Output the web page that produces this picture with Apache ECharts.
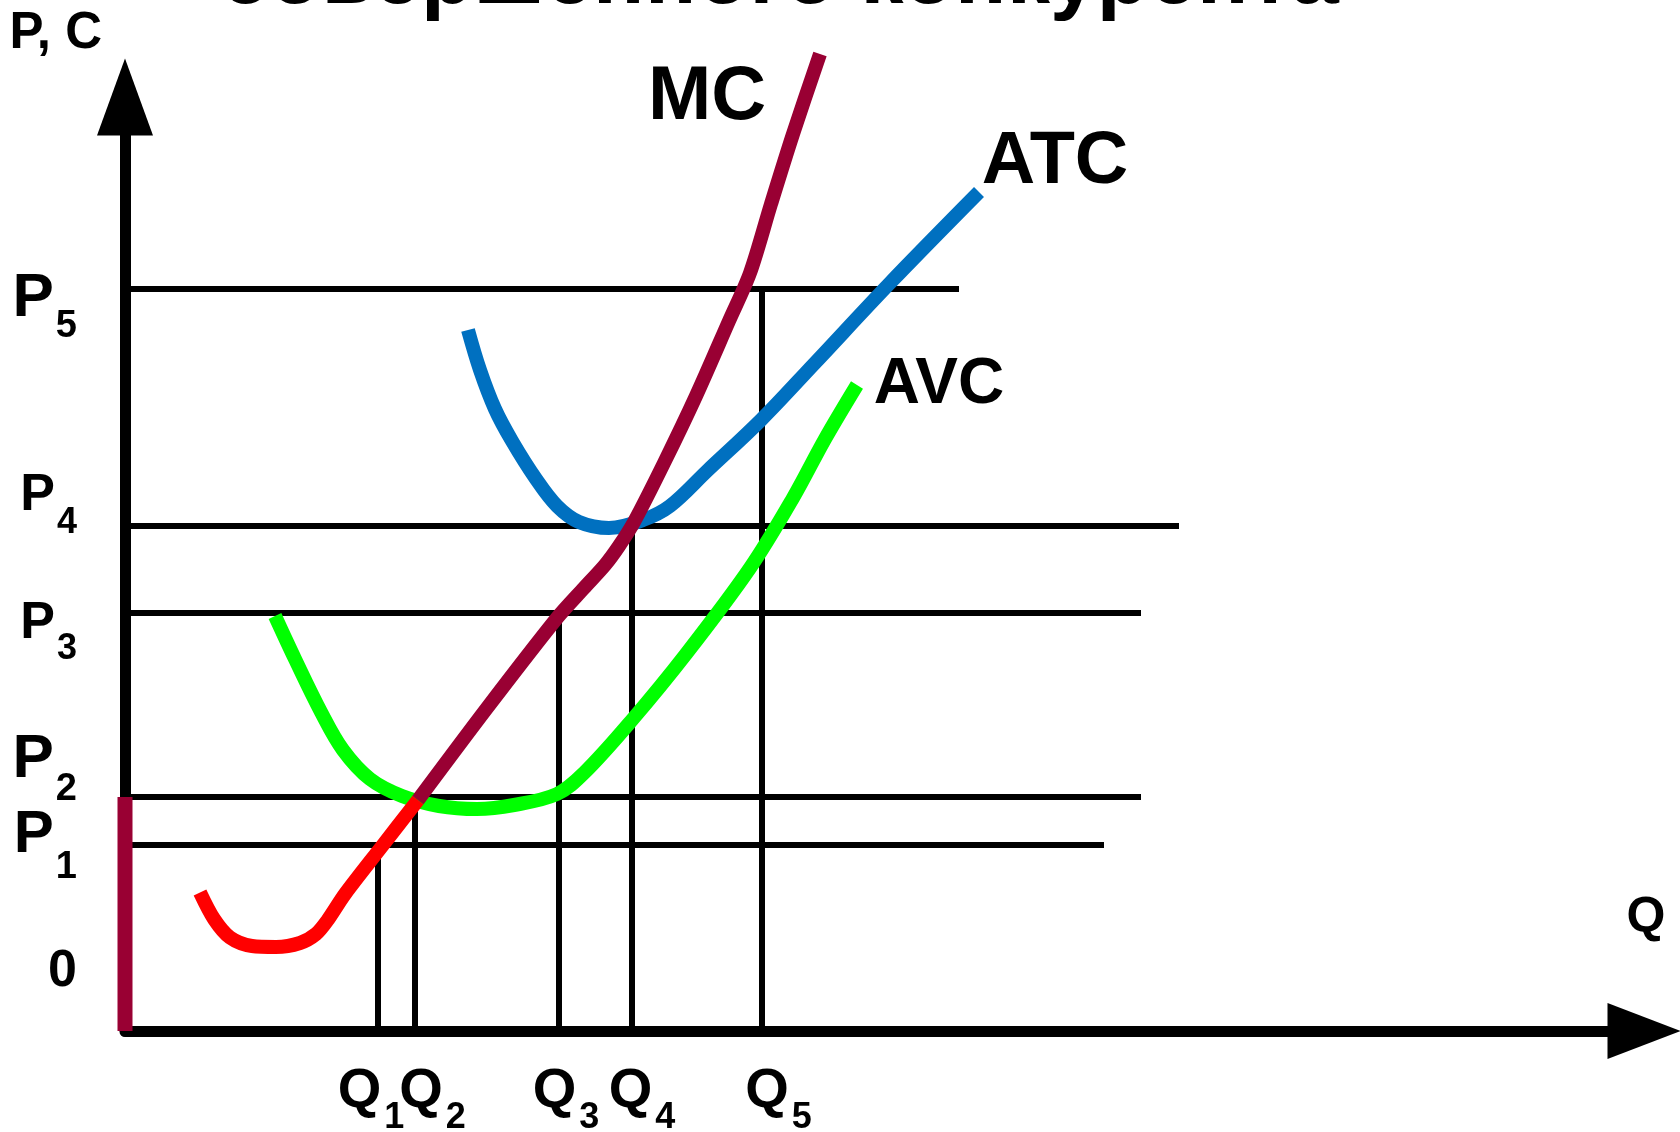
<!DOCTYPE html>
<html><head><meta charset="utf-8">
<script src="https://cdn.jsdelivr.net/npm/echarts@6/dist/echarts.min.js"></script>
<style>html,body{margin:0;padding:0;background:#fff}#c{width:1680px;height:1132px}</style>
</head><body><div id="c"></div>
<script>
// ---- data ----
const titleText = 'совершенного конкурента';
const yAxisName = 'P, C';
const xAxisName = 'Q';
const pLabels = ['P1', 'P2', 'P3', 'P4', 'P5'];
const pValues = [18.6, 23.4, 41.8, 50.5, 74.2];
const pLineEnds = [97.9, 101.6, 101.6, 105.4, 83.4];
const qLabels = ['Q1', 'Q2', 'Q3', 'Q4', 'Q5'];
const qValues = [25.3, 29.0, 43.4, 50.7, 63.7];
const qLineTops = [17.5, 22.5, 41.8, 50.5, 74.2];
const mcLower = [[7.5,13.85],[8.9,11.2],[10.5,9.35],[12.7,8.5],[15.1,8.4],[17.5,8.8],[19.1,9.7],[20.2,11.0],[22.0,13.7],[25.6,18.35],[29.3,23.1]];
const mcUpper = [[29.3,23.1],[36.2,32.3],[43.2,41.3],[45.9,44.3],[48.0,46.6],[49.4,48.5],[50.9,50.9],[53.9,56.8],[57.1,63.5],[60.4,71.0],[62.5,75.8],[64.6,82.7],[66.8,89.7],[69.5,97.7]];
const atc = [[34.3,70.1],[35.5,66.1],[37.0,62.2],[38.7,59.0],[41.1,55.2],[43.2,52.5],[45.4,50.9],[48.4,50.3],[51.8,51.1],[54.5,52.5],[58.2,56.0],[63.6,61.1],[68.9,66.7],[76.4,74.7],[85.4,83.9]];
const avc = [[15.0,41.5],[17.0,37.2],[19.6,31.9],[21.8,28.1],[24.5,25.2],[27.7,23.5],[31.4,22.5],[35.2,22.2],[38.9,22.6],[43.2,23.7],[45.9,25.8],[50.7,31.1],[56.1,37.7],[62.5,46.3],[66.8,53.3],[70.0,59.2],[73.2,64.6]];
const shutdownSegment = [[0, 0], [0, 23.4]];
const curveNames = ['MC', 'ATC', 'AVC'];

// ---- layout / style ----
const FONT = 'Liberation Sans';
const namePos = [[58.2, 93.3], [93.0, 86.8], [81.4, 64.6]];
const nameSizes = [76, 74, 64];
const pFont = [60, 62, 52, 52, 62];
const pSubFont = [38, 38, 36, 36, 38];
const pShift = [-10, -37.5, 11, -30, 10];
const pSubShift = [23, -7.5, 36, -3, 38];
const qLeftPad = [0, 35, 14, 20, 33];
const qRightPad = [14, 0, 0, 0, 0];
function vpad(s, l, r) { return [Math.max(0, 2 * s), r || 0, Math.max(0, -2 * s), l || 0]; }
const base = { fontFamily: FONT, fontWeight: 'bold', color: '#000' };
const yRich = { z: Object.assign({ fontSize: 52, padding: vpad(-59) }, base) };
pLabels.forEach((l, i) => {
  yRich['p' + i] = Object.assign({ fontSize: pFont[i], padding: vpad(pShift[i]) }, base);
  yRich['s' + i] = Object.assign({ fontSize: pSubFont[i], padding: vpad(pSubShift[i], 2) }, base);
});
const qRich = {};
qLabels.forEach((l, i) => {
  qRich['q' + i] = Object.assign({ fontSize: 56, padding: [0, 0, 0, qLeftPad[i]] }, base);
  qRich['t' + i] = Object.assign({ fontSize: 36, padding: [52, qRightPad[i], 0, 3] }, base);
});
const plainLabel = { color: '#000', textBorderWidth: 0, textBorderColor: 'transparent', opacity: 1, fontFamily: FONT, fontWeight: 'bold' };

const series = [];
pValues.forEach((p, i) => series.push({
  type: 'line', name: pLabels[i], data: [[0, p], [pLineEnds[i], p]], symbol: 'none', silent: true,
  lineStyle: { color: '#000', width: 6 }, z: 2, clip: false
}));
qValues.forEach((q, i) => series.push({
  type: 'line', name: qLabels[i], data: [[q, 0], [q, qLineTops[i]]], symbol: 'none', silent: true,
  lineStyle: { color: '#000', width: 6 }, z: 2, clip: false
}));
const curve = (name, data, color, sm) => ({
  type: 'line', name, data, symbol: 'none', smooth: sm, silent: true, clip: false,
  lineStyle: { color, width: 14 }, z: 3
});
series.push(curve('ATC', atc, '#0070C0', 0.35));
series.push(curve('AVC', avc, '#00FF00', 0.35));
series.push(curve('MC-low', mcLower, '#FF0000', 0.3));
series.push(curve('MC', mcUpper, '#990033', 0.3));
series.push({ type: 'line', name: 'shutdown', data: shutdownSegment, symbol: 'none', silent: true, clip: false,
  lineStyle: { color: '#990033', width: 15 }, z: 4 });
// curve names
series.push({
  type: 'scatter', name: 'names', symbolSize: 1, itemStyle: { color: 'rgba(0,0,0,0)' }, clip: false, silent: true, z: 5,
  data: curveNames.map((n, i) => ({ name: n, value: namePos[i], label: Object.assign({ fontSize: nameSizes[i] }, plainLabel) })),
  label: Object.assign({ show: true, position: 'inside', formatter: p => p.name }, plainLabel)
});
// Q tick labels under the x axis
series.push({
  type: 'scatter', name: 'qTicks', symbolSize: 1, itemStyle: { color: 'rgba(0,0,0,0)' }, clip: false, silent: true, z: 5,
  data: qValues.map((q, i) => ({ name: qLabels[i], value: [q, 0] })),
  label: Object.assign({
    show: true, position: 'inside', offset: [0, 61], rich: qRich,
    formatter: p => { const l = p.name, i = p.dataIndex; return `{q${i}|${l[0]}}{t${i}|${l.slice(1)}}`; }
  }, plainLabel)
});

const chart = echarts.init(document.getElementById('c'), null, { renderer: 'canvas' });
chart.setOption({
  animation: false,
  backgroundColor: '#fff',
  textStyle: { fontFamily: FONT },
  grid: { left: 125, top: 97, width: 1519, height: 934, containLabel: false, outerBoundsMode: 'none' },
  xAxis: {
    type: 'value', min: 0, max: 151.9,
    name: xAxisName, nameLocation: 'end', nameGap: 2,
    nameTextStyle: { fontSize: 50, fontWeight: 'bold', color: '#000', fontFamily: FONT, align: 'center', verticalAlign: 'bottom', padding: [0, 0, 88, 0] },
    axisLine: { show: true, symbol: ['none', 'triangle'], symbolSize: [56, 73], lineStyle: { color: '#000', width: 11 } },
    axisTick: { show: false }, splitLine: { show: false }, axisLabel: { show: false }
  },
  yAxis: {
    type: 'value', min: 0, max: 93.4,
    name: yAxisName, nameLocation: 'end', nameGap: 38,
    nameTextStyle: { fontSize: 51, fontWeight: 'bold', color: '#000', fontFamily: FONT, align: 'right', verticalAlign: 'bottom', padding: [0, 23, 0, 0] },
    axisLine: { show: true, symbol: ['none', 'triangle'], symbolSize: [56, 77], lineStyle: { color: '#000', width: 11 } },
    axisTick: { show: false }, splitLine: { show: false },
    axisLabel: {
      customValues: [0].concat(pValues), margin: 48, showMinLabel: true, showMaxLabel: true, hideOverlap: false,
      formatter: v => { if (v === 0) return '{z|0}'; const i = pValues.indexOf(v); const l = pLabels[i]; return `{p${i}|${l[0]}}{s${i}|${l.slice(1)}}`; },
      rich: yRich
    }
  },
  graphic: [{
    type: 'text', x: 780, y: -21, silent: true,
    style: { text: titleText, font: 'bold 86px "Liberation Sans"', fill: '#000', align: 'center', verticalAlign: 'middle', textAlign: 'center', textVerticalAlign: 'middle' }
  }],
  series
});
</script></body></html>
